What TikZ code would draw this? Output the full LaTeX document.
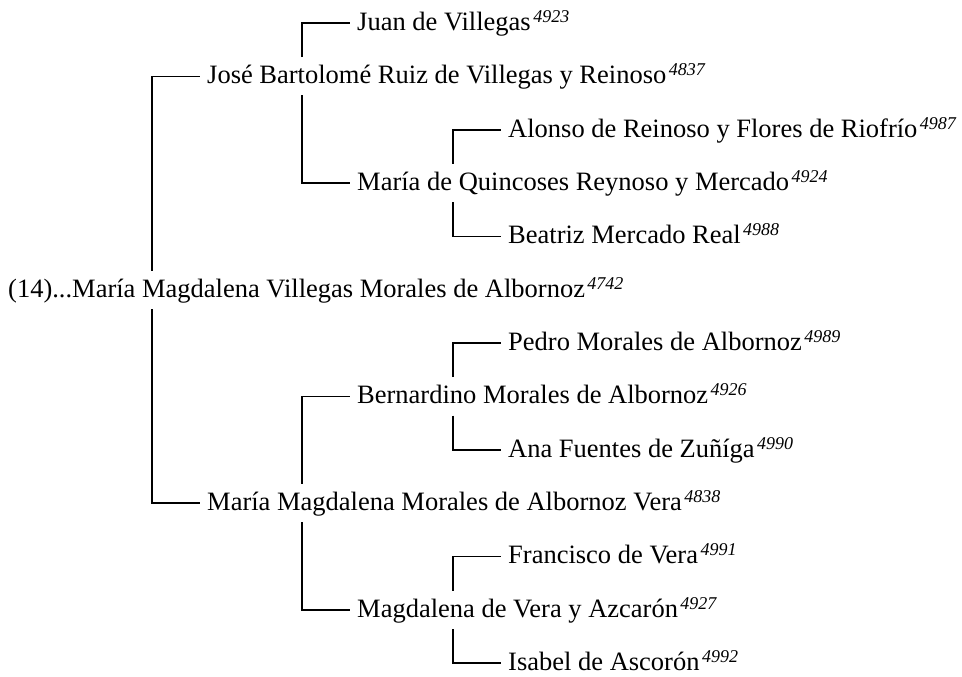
\documentclass[tikz,border=0pt]{standalone}
\usepackage{fontspec}
\setmainfont{Liberation Serif}
\newcommand{\gsup}[1]{\kern2.5pt\raisebox{8pt}{\fontsize{18}{18}\selectfont\itshape #1}}
\begin{document}
\begin{tikzpicture}[x=1pt,y=-1pt,
  person/.style={anchor=west, inner xsep=7pt, inner ysep=6.5pt, text height=20pt, text depth=5pt, font=\fontsize{26.5}{30}\selectfont},
  link/.style={line width=1.2pt}]
\useasboundingbox (0,0) rectangle (962,677);
\path (152,0) coordinate (c0) (302,0) coordinate (c1) (453,0) coordinate (c2);
\node[person] (root) at (1,290) {(14)...María Magdalena Villegas Morales de Albornoz\gsup{4742}};
\node[person] (jose) at (200,76.3) {José Bartolomé Ruiz de Villegas y Reinoso\gsup{4837}};
\node[person] (juan) at (350,23) {Juan de Villegas\gsup{4923}};
\node[person] (quin) at (350,183) {María de Quincoses Reynoso y Mercado\gsup{4924}};
\node[person] (alonso) at (501,130) {Alonso de Reinoso y Flores de Riofrío\gsup{4987}};
\node[person] (beatriz) at (501,236.3) {Beatriz Mercado Real\gsup{4988}};
\node[person] (mmm) at (200,503) {María Magdalena Morales de Albornoz Vera\gsup{4838}};
\node[person] (bern) at (350,396.3) {Bernardino Morales de Albornoz\gsup{4926}};
\node[person] (pedro) at (501,343) {Pedro Morales de Albornoz\gsup{4989}};
\node[person] (ana) at (501,450) {Ana Fuentes de Zuñíga\gsup{4990}};
\node[person] (magd) at (350,610) {Magdalena de Vera y Azcarón\gsup{4927}};
\node[person] (fran) at (501,556.3) {Francisco de Vera\gsup{4991}};
\node[person] (isabel) at (501,663) {Isabel de Ascorón\gsup{4992}};
\draw[link] (root.north -| c0) |- (jose.west);
\draw[link] (root.south -| c0) |- (mmm.west);
\draw[link] (jose.north -| c1) |- (juan.west);
\draw[link] (jose.south -| c1) |- (quin.west);
\draw[link] (quin.north -| c2) |- (alonso.west);
\draw[link] (quin.south -| c2) |- (beatriz.west);
\draw[link] (mmm.north -| c1) |- (bern.west);
\draw[link] (mmm.south -| c1) |- (magd.west);
\draw[link] (bern.north -| c2) |- (pedro.west);
\draw[link] (bern.south -| c2) |- (ana.west);
\draw[link] (magd.north -| c2) |- (fran.west);
\draw[link] (magd.south -| c2) |- (isabel.west);
\end{tikzpicture}
\end{document}
